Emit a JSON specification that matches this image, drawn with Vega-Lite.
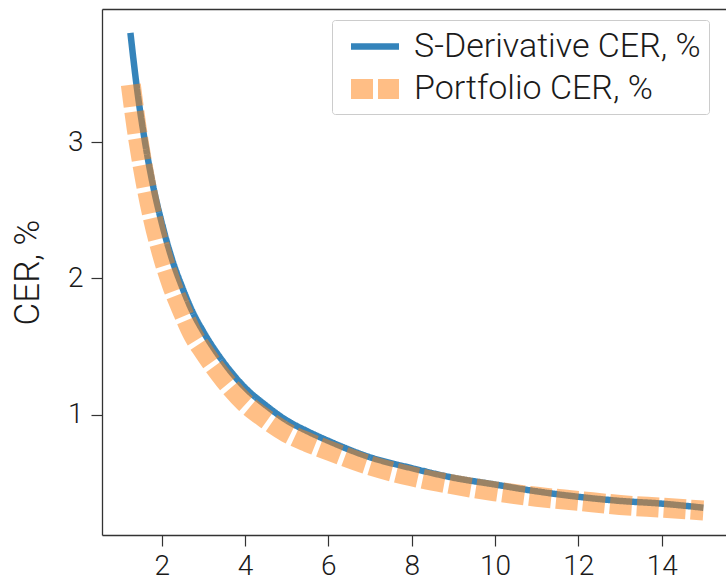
{
  "$schema": "https://vega.github.io/schema/vega-lite/v6.json",
  "width": 624,
  "height": 526,
  "autosize": {"type": "none"},
  "padding": {"left": 102, "top": 9, "right": 0, "bottom": 44},
  "background": "white",
  "config": {
    "view": {"stroke": null},
    "font": "Roboto",
    "axis": {"labelFont": "Roboto", "titleFont": "Roboto", "labelFontWeight": 300, "grid": false},
    "legend": {"labelFont": "Roboto", "labelFontWeight": 300}
  },
  "datasets": {
    "blue": [
      {"x": 1.25, "y": 3.80, "series": "S-Derivative CER, %"},
      {"x": 1.4, "y": 3.41, "series": "S-Derivative CER, %"},
      {"x": 1.6, "y": 3.00, "series": "S-Derivative CER, %"},
      {"x": 1.8, "y": 2.67, "series": "S-Derivative CER, %"},
      {"x": 2.0, "y": 2.41, "series": "S-Derivative CER, %"},
      {"x": 2.25, "y": 2.14, "series": "S-Derivative CER, %"},
      {"x": 2.5, "y": 1.93, "series": "S-Derivative CER, %"},
      {"x": 2.75, "y": 1.75, "series": "S-Derivative CER, %"},
      {"x": 3.0, "y": 1.61, "series": "S-Derivative CER, %"},
      {"x": 3.5, "y": 1.38, "series": "S-Derivative CER, %"},
      {"x": 4.0, "y": 1.20, "series": "S-Derivative CER, %"},
      {"x": 4.5, "y": 1.07, "series": "S-Derivative CER, %"},
      {"x": 5.0, "y": 0.96, "series": "S-Derivative CER, %"},
      {"x": 5.5, "y": 0.88, "series": "S-Derivative CER, %"},
      {"x": 6.0, "y": 0.81, "series": "S-Derivative CER, %"},
      {"x": 7.0, "y": 0.69, "series": "S-Derivative CER, %"},
      {"x": 8.0, "y": 0.61, "series": "S-Derivative CER, %"},
      {"x": 9.0, "y": 0.54, "series": "S-Derivative CER, %"},
      {"x": 10.0, "y": 0.49, "series": "S-Derivative CER, %"},
      {"x": 11.0, "y": 0.44, "series": "S-Derivative CER, %"},
      {"x": 12.0, "y": 0.40, "series": "S-Derivative CER, %"},
      {"x": 13.0, "y": 0.37, "series": "S-Derivative CER, %"},
      {"x": 14.0, "y": 0.35, "series": "S-Derivative CER, %"},
      {"x": 15.0, "y": 0.32, "series": "S-Derivative CER, %"}
    ],
    "orange": [
      {"x": 1.26, "y": 3.42, "series": "Portfolio CER, %"},
      {"x": 1.4, "y": 3.10, "series": "Portfolio CER, %"},
      {"x": 1.6, "y": 2.73, "series": "Portfolio CER, %"},
      {"x": 1.8, "y": 2.43, "series": "Portfolio CER, %"},
      {"x": 2.0, "y": 2.19, "series": "Portfolio CER, %"},
      {"x": 2.25, "y": 1.95, "series": "Portfolio CER, %"},
      {"x": 2.5, "y": 1.76, "series": "Portfolio CER, %"},
      {"x": 2.75, "y": 1.59, "series": "Portfolio CER, %"},
      {"x": 3.0, "y": 1.47, "series": "Portfolio CER, %"},
      {"x": 3.5, "y": 1.26, "series": "Portfolio CER, %"},
      {"x": 4.0, "y": 1.09, "series": "Portfolio CER, %"},
      {"x": 4.5, "y": 0.97, "series": "Portfolio CER, %"},
      {"x": 5.0, "y": 0.87, "series": "Portfolio CER, %"},
      {"x": 5.5, "y": 0.80, "series": "Portfolio CER, %"},
      {"x": 6.0, "y": 0.74, "series": "Portfolio CER, %"},
      {"x": 7.0, "y": 0.63, "series": "Portfolio CER, %"},
      {"x": 8.0, "y": 0.55, "series": "Portfolio CER, %"},
      {"x": 9.0, "y": 0.49, "series": "Portfolio CER, %"},
      {"x": 10.0, "y": 0.44, "series": "Portfolio CER, %"},
      {"x": 11.0, "y": 0.40, "series": "Portfolio CER, %"},
      {"x": 12.0, "y": 0.37, "series": "Portfolio CER, %"},
      {"x": 13.0, "y": 0.34, "series": "Portfolio CER, %"},
      {"x": 14.0, "y": 0.32, "series": "Portfolio CER, %"},
      {"x": 15.0, "y": 0.30, "series": "Portfolio CER, %"}
    ]
  },
  "encoding": {
    "y": {
      "field": "y", "type": "quantitative",
      "scale": {"domain": [0.12, 3.975], "nice": false, "zero": false},
      "axis": {
        "title": "CER, %", "values": [1, 2, 3],
        "titleFontSize": 35, "titleFontWeight": 300, "titleColor": "#1a1a1a", "titlePadding": 22,
        "labelFontSize": 28, "labelColor": "#1a1a1a", "labelPadding": 8,
        "tickSize": 11, "tickColor": "#333", "tickWidth": 1.2,
        "domainColor": "#333", "domainWidth": 1.3
      }
    },
    "color": {
      "field": "series", "type": "nominal",
      "scale": {"domain": ["S-Derivative CER, %", "Portfolio CER, %"], "range": ["#1f77b4", "#ff7f0e"]},
      "legend": {
        "title": null, "orient": "none", "legendX": 230, "legendY": 11,
        "fillColor": "white", "strokeColor": "#cccccc", "cornerRadius": 3, "padding": 8,
        "symbolType": "M-1.6,0H1.6", "symbolSize": 900, "symbolOffset": 10,
        "labelFontSize": 34, "labelColor": "#1a1a1a", "labelLimit": 400, "labelOffset": 14,
        "rowPadding": -3,
        "encode": {"symbols": {"update": {"strokeJoin": {"value": "round"}}}}
      }
    },
    "strokeWidth": {
      "field": "series", "type": "nominal",
      "scale": {"domain": ["S-Derivative CER, %", "Portfolio CER, %"], "range": [6.5, 20]},
      "legend": null
    },
    "strokeDash": {
      "field": "series", "type": "nominal",
      "scale": {"domain": ["S-Derivative CER, %", "Portfolio CER, %"], "range": [[1, 0], [22, 5]]},
      "legend": null
    },
    "opacity": {
      "field": "series", "type": "nominal",
      "scale": {"domain": ["S-Derivative CER, %", "Portfolio CER, %"], "range": [0.9, 0.5]},
      "legend": null
    }
  },
  "layer": [
    {
      "data": {"name": "blue"},
      "mark": {"type": "line", "interpolate": "monotone", "strokeCap": "butt"},
      "encoding": {
        "x": {
          "field": "x", "type": "quantitative",
          "scale": {"domain": [0.568, 15.543], "nice": false, "zero": false},
          "axis": {
            "title": null, "values": [2, 4, 6, 8, 10, 12, 14], "orient": "bottom",
            "labelFontSize": 28, "labelColor": "#1a1a1a", "labelPadding": 6,
            "tickSize": 11, "tickColor": "#333", "tickWidth": 1.2,
            "domainColor": "#333", "domainWidth": 1.3
          }
        }
      }
    },
    {
      "data": {"name": "orange"},
      "mark": {"type": "line", "interpolate": "monotone", "strokeCap": "butt"},
      "encoding": {
        "x": {
          "field": "x", "type": "quantitative",
          "scale": {"domain": [0.568, 15.543], "nice": false, "zero": false},
          "axis": {
            "title": null, "orient": "top", "labels": false, "ticks": false,
            "domainColor": "#333", "domainWidth": 1.3
          }
        }
      }
    }
  ],
  "resolve": {"axis": {"x": "independent"}}
}
